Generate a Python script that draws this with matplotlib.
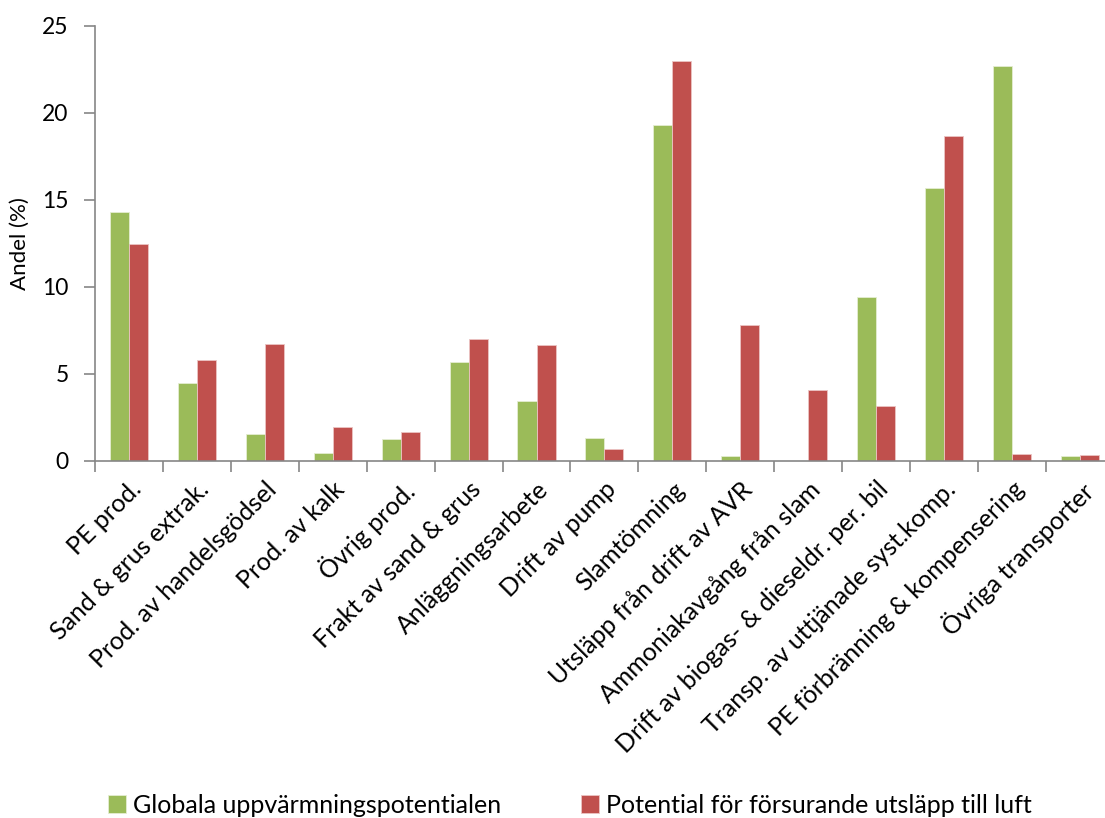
import numpy as np
import matplotlib
matplotlib.use("Agg")
import matplotlib.pyplot as plt

plt.rcParams['font.family'] = ['Lato', 'DejaVu Sans']

# Andel per processsteg (%)
kategorier = [
    "PE prod.",
    "Sand & grus extrak.",
    "Prod. av handelsgödsel",
    "Prod. av kalk",
    "Övrig prod.",
    "Frakt av sand & grus",
    "Anläggningsarbete",
    "Drift av pump",
    "Slamtömning",
    "Utsläpp från drift av AVR",
    "Ammoniakavgång från slam",
    "Drift av biogas- & dieseldr. per. bil",
    "Transp. av uttjänade syst.komp.",
    "PE förbränning & kompensering",
    "Övriga transporter",
]
gwp = [14.28, 4.49, 1.55, 0.46, 1.23, 5.70, 3.45, 1.29, 19.31, 0.29, 0.0, 9.43, 15.66, 22.69, 0.29]
forsurning = [12.45, 5.82, 6.72, 1.95, 1.67, 7.02, 6.64, 0.67, 22.95, 7.83, 4.07, 3.17, 18.66, 0.40, 0.34]

GRON = "#9BBB59"
ROD = "#C0504D"
GRA = "#868686"

fig = plt.figure(figsize=(11.05, 8.18), dpi=100)
ax = fig.add_axes([0.086, 0.4366, 0.922, 0.532])

x = np.arange(len(kategorier))
w = 0.28
ax.bar(x - w / 2, gwp, w, color=GRON, edgecolor="#E4EDD2", linewidth=0.6,
       label="Globala uppvärmningspotentialen")
ax.bar(x + w / 2, forsurning, w, color=ROD, edgecolor="#EBC4C3", linewidth=0.6,
       label="Potential för försurande utsläpp till luft")

ax.set_xlim(-0.5, len(kategorier) - 0.5)
ax.set_ylim(0, 25)
ax.set_yticks(range(0, 26, 5))
# kategorigränser som stora streck, namnen på mellanliggande mindre streck
ax.set_xticks(np.arange(len(kategorier) + 1) - 0.5)
ax.set_xticklabels([])
ax.set_xticks(x, minor=True)
ax.set_xticklabels(kategorier, minor=True, rotation=45, ha="right",
                   rotation_mode="anchor", fontsize=18)
ax.tick_params(axis="x", which="minor", length=0, pad=12)
ax.tick_params(axis="x", which="major", length=8, width=1.2, color=GRA)
ax.tick_params(axis="y", length=8, width=1.2, color=GRA, labelsize=16.5, pad=11)

for s in ["top", "right"]:
    ax.spines[s].set_visible(False)
for s in ["left", "bottom"]:
    ax.spines[s].set_color(GRA)
    ax.spines[s].set_linewidth(1.2)

ax.set_ylabel("Andel (%)", fontsize=16, labelpad=9)

fig.legend(loc="lower center", bbox_to_anchor=(0.516, -0.026), ncol=2, frameon=False,
           fontsize=18, handlelength=0.7, handleheight=0.7, handletextpad=0.3,
           columnspacing=3.2)

fig.savefig("out.png", dpi=100)
